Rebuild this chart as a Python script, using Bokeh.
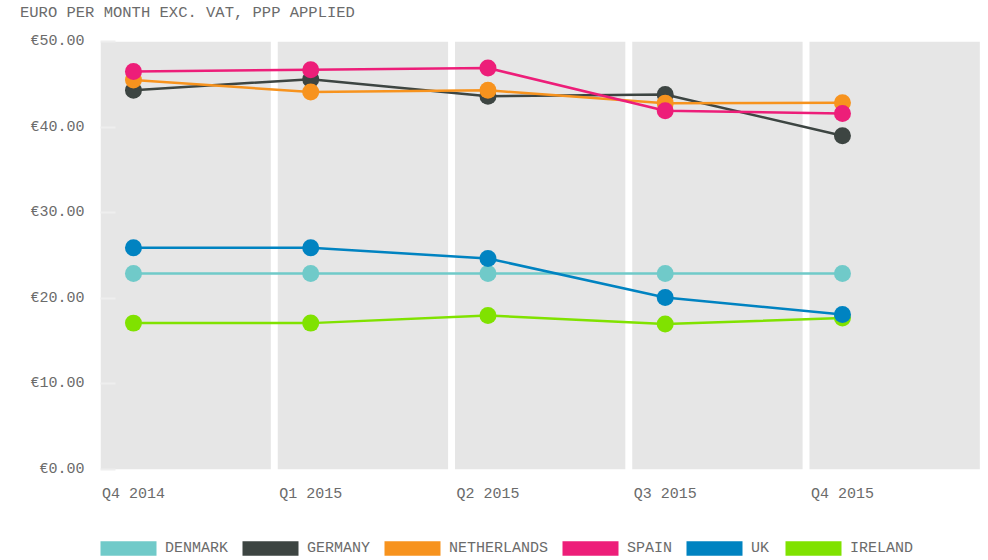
from bokeh.plotting import figure
from bokeh.models import (Range1d, FixedTicker, Legend, LegendItem,
                          ColumnDataSource, Div)
from bokeh.layouts import column
from bokeh.embed import file_html
from bokeh.resources import INLINE

quarters = ["Q4 2014", "Q1 2015", "Q2 2015", "Q3 2015", "Q4 2015"]
countries = ["DENMARK", "GERMANY", "NETHERLANDS", "SPAIN", "UK", "IRELAND"]
denmark = [22.9, 22.9, 22.9, 22.9, 22.9]
germany = [44.3, 45.6, 43.6, 43.8, 39.0]
netherlands = [45.5, 44.1, 44.3, 42.8, 42.85]
spain = [46.5, 46.7, 46.9, 41.9, 41.6]
uk = [25.9, 25.9, 24.65, 20.1, 18.1]
ireland = [17.1, 17.1, 18.0, 17.0, 17.7]
y_ticks = [0, 10, 20, 30, 40, 50]
y_tick_labels = ["€0.00", "€10.00", "€20.00", "€30.00", "€40.00", "€50.00"]
title_text = "EURO PER MONTH EXC. VAT, PPP APPLIED"

series = {"DENMARK": denmark, "GERMANY": germany, "NETHERLANDS": netherlands,
          "SPAIN": spain, "UK": uk, "IRELAND": ireland}
colors = {"DENMARK": "#70CAC9", "GERMANY": "#3D4542", "NETHERLANDS": "#F7931E",
          "SPAIN": "#ED1E79", "UK": "#0083C1", "IRELAND": "#80E200"}
draw_order = ["DENMARK", "GERMANY", "IRELAND", "NETHERLANDS", "SPAIN", "UK"]

FONT = "Liberation Mono"
TXT = "#6b6b6b"

xs = list(range(len(quarters)))

# title strip
title_div = Div(
    text=('<div style="font-family: \'Liberation Mono\', monospace; '
          'font-size: 15.5px; color: %s; line-height: 27px; '
          'padding-left: 20px; white-space: nowrap;">%s</div>'
          % (TXT, title_text)),
    width=986, height=27, margin=0)

p = figure(width=986, height=478, output_backend="svg", toolbar_location=None,
           x_range=Range1d(-0.186, 4.807), y_range=Range1d(0, 50),
           min_border_left=100, min_border_right=1, min_border_top=14,
           min_border_bottom=33)
p.outline_line_color = None
p.grid.visible = False
p.background_fill_color = "white"
p.border_fill_color = "white"

# background bands, one per quarter
band_src = ColumnDataSource(dict(left=[x - 0.186 for x in xs],
                                 right=[x + 0.775 for x in xs],
                                 bottom=[y_ticks[0]] * len(xs),
                                 top=[y_ticks[-1]] * len(xs)))
p.quad(left="left", right="right", bottom="bottom", top="top",
       source=band_src, fill_color="#E6E6E6", line_color=None)

for c in countries:
    p.line(xs, series[c], line_color=colors[c], line_width=2.5)
for c in draw_order:
    p.scatter(xs, series[c], size=17, fill_color=colors[c], line_color=None)

# axes
p.xaxis.ticker = FixedTicker(ticks=xs)
p.xaxis.major_label_overrides = {i: q for i, q in enumerate(quarters)}
p.xaxis.axis_line_color = None
p.xaxis.major_tick_line_color = None
p.xaxis.minor_tick_line_color = None
p.xaxis.major_tick_out = 0
p.xaxis.major_tick_in = 0
p.xaxis.major_label_standoff = 16
p.xaxis.major_label_text_font = FONT
p.xaxis.major_label_text_font_size = "15px"
p.xaxis.major_label_text_color = TXT

p.yaxis.ticker = FixedTicker(ticks=y_ticks)
p.yaxis.major_label_overrides = {t: l for t, l in zip(y_ticks, y_tick_labels)}
p.yaxis.axis_line_color = None
p.yaxis.major_tick_line_color = "#EEEEEE"
p.yaxis.major_tick_line_width = 2
p.yaxis.major_tick_in = 15
p.yaxis.major_tick_out = 0
p.yaxis.minor_tick_line_color = None
p.yaxis.major_label_standoff = 16
p.yaxis.major_label_text_font = FONT
p.yaxis.major_label_text_font_size = "15px"
p.yaxis.major_label_text_color = TXT

# legend strip as a separate small figure (frame aligned with the chart's)
q = figure(width=986, height=53, output_backend="svg", toolbar_location=None,
           x_range=Range1d(0, 1), y_range=Range1d(0, 1), min_border=0)
q.axis.visible = False
q.grid.visible = False
q.outline_line_color = None

nan = float("nan")
items = []
for c in countries:
    r = q.quad(left=[nan], right=[nan], top=[nan], bottom=[nan],
               fill_color=colors[c], line_color=None)
    items.append(LegendItem(label=c, renderers=[r]))
legend = Legend(items=items, orientation="horizontal", location=(-7, 1),
                glyph_width=70, glyph_height=18, label_standoff=2, spacing=7,
                padding=0, margin=0, border_line_color=None,
                background_fill_alpha=0, label_text_font=FONT,
                label_text_font_size="15px", label_text_color=TXT,
                label_height=14)
q.add_layout(legend)

layout = column(title_div, p, q, spacing=0)
open("out.html", "w").write(file_html(layout, INLINE))
